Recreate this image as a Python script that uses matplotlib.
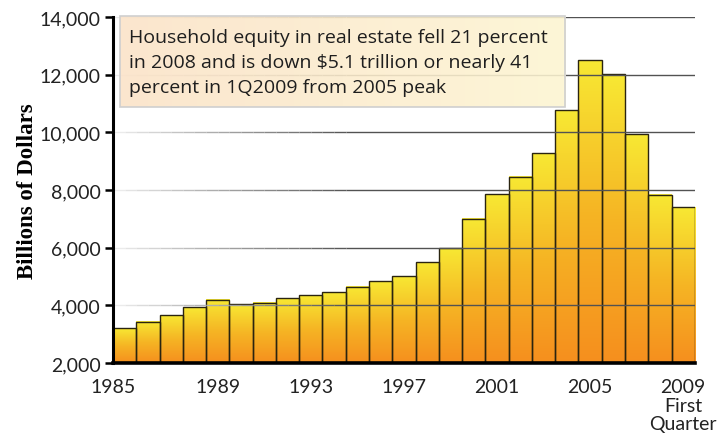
import numpy as np
import matplotlib.pyplot as plt
from matplotlib.collections import LineCollection
from matplotlib.patches import Rectangle
from matplotlib.colors import LinearSegmentedColormap
import matplotlib.transforms as mtransforms

# Household equity in real estate, billions of dollars
years = list(range(1985, 2010))
equity = [3200, 3430, 3665, 3930, 4200, 4045, 4090, 4245, 4350, 4450,
          4640, 4830, 5010, 5490, 5980, 7000, 7860, 8460, 9280, 10760,
          12500, 12020, 9930, 7840, 7400]
tick_years = [1985, 1989, 1993, 1997, 2001, 2005, 2009]
tick_labels = ['1985', '1989', '1993', '1997', '2001', '2005', '2009\nFirst\nQuarter']
y_ticks = [2000, 4000, 6000, 8000, 10000, 12000, 14000]
note = ("Household equity in real estate fell 21 percent\n"
        "in 2008 and is down \\$5.1 trillion or nearly 41\n"
        "percent in 1Q2009 from 2005 peak")

fig = plt.figure(figsize=(7.2, 4.39), dpi=100)
ax = fig.add_axes([0.157, 0.171, 0.808, 0.788])

x = np.arange(len(years))
bars = ax.bar(x, equity, width=1.0, bottom=0, color='none',
              edgecolor='#2a2410', linewidth=1.0, zorder=4)

# gradient fill inside every bar (yellow top -> orange bottom)
bar_cmap = LinearSegmentedColormap.from_list('bar', ['#f68f1e', '#f5b524', '#f8e833'])
grad = np.linspace(0, 1, 128).reshape(-1, 1)
for b in bars:
    x0, w, h = b.get_x(), b.get_width(), b.get_height()
    ax.imshow(grad, cmap=bar_cmap, aspect='auto', origin='lower',
              extent=(x0, x0 + w, 2000, h), zorder=3)

ax.set_xlim(-0.5, len(years) - 0.5)
ax.set_ylim(2000, 14000)

# gridlines: fade in over the left part, then one solid stretch
xl, xr = ax.get_xlim()
xs = np.linspace(xl, xl + 10, 21)
for yv in y_ticks[1:]:
    segs = [[(xs[i], yv), (xs[i + 1], yv)] for i in range(len(xs) - 1)]
    cols = [(0.92 - 0.6 * i / 20,) * 3 for i in range(len(xs) - 1)]
    segs.append([(xs[-1], yv), (xr, yv)])
    cols.append((0.32, 0.32, 0.32))
    ax.add_collection(LineCollection(segs, colors=cols, linewidths=1.0,
                                     capstyle='butt', zorder=5))

# spines
for s in ['top', 'right']:
    ax.spines[s].set_visible(False)
ax.spines['left'].set_linewidth(2.2)
ax.spines['bottom'].set_linewidth(2.6)
ax.spines['left'].set_zorder(6)
ax.spines['bottom'].set_zorder(6)

ax.set_yticks(y_ticks)
ax.set_yticklabels([f'{v:,}' for v in y_ticks], family='Lato', fontsize=14, color='#222222')
ax.tick_params(axis='y', length=6, width=1.8, pad=3, colors='black', labelcolor='#222222')

ax.set_xticks([years.index(yr) for yr in tick_years])
ax.set_xticklabels(tick_labels, family='Lato', fontsize=14, color='#222222', linespacing=1.1)
ax.tick_params(axis='x', length=0, pad=11)
# shift the first label to the left edge
first = ax.get_xticklabels()[0]
first.set_transform(first.get_transform() + mtransforms.ScaledTranslation(-11.5 / 100, 0, fig.dpi_scale_trans))

ax.set_ylabel('Billions of Dollars', family='Liberation Serif', fontweight='bold',
              fontsize=16.5, labelpad=1)

# note box with gradient background
box_cmap = LinearSegmentedColormap.from_list('box', ['#fbe3c8', '#fdf5d2'])
ax.imshow(np.linspace(0, 1, 128).reshape(1, -1), cmap=box_cmap, aspect='auto',
          extent=(0.012, 0.777, 0.740, 1.003), transform=ax.transAxes,
          alpha=0.88, zorder=7, clip_on=False)
ax.add_patch(Rectangle((0.012, 0.740), 0.765, 0.263, transform=ax.transAxes,
                       fill=False, edgecolor='#cfcfcf', linewidth=1.2, zorder=8, clip_on=False))
ax.text(0.027, 0.968, note, transform=ax.transAxes, ha='left', va='top',
        family='Open Sans', fontsize=14, color='#1e1e1e', linespacing=1.5, zorder=9)

fig.savefig('out.png', dpi=100)
